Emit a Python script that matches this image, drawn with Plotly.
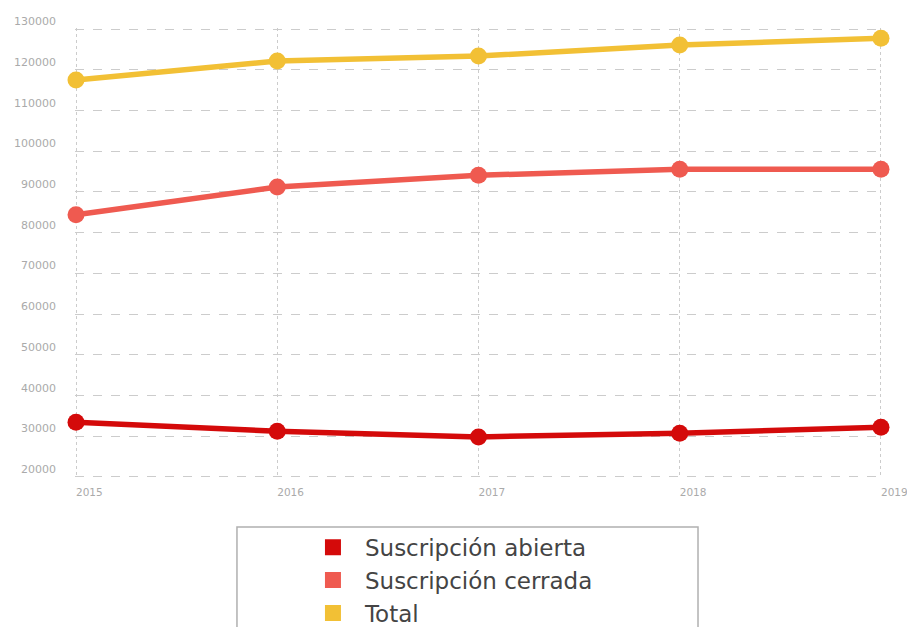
import plotly.graph_objects as go

years = [2015, 2016, 2017, 2018, 2019]
abierta = [33400, 31200, 29800, 30700, 32200]
cerrada = [84400, 91200, 94100, 95600, 95600]
total = [117500, 122200, 123400, 126100, 127800]
y_ticks = [20000, 30000, 40000, 50000, 60000, 70000, 80000, 90000, 100000, 110000, 120000, 130000]

series = [
    ("Suscripción abierta", abierta, "#d40a0a"),
    ("Suscripción cerrada", cerrada, "#ef5a50"),
    ("Total", total, "#f2c035"),
]

fig = go.Figure()
for name, vals, col in series:
    fig.add_trace(go.Scatter(
        x=years, y=vals, mode="lines+markers", name=name,
        line=dict(color=col, width=5.5), marker=dict(color=col, size=17),
        showlegend=False, cliponaxis=False,
    ))
for i, (name, vals, col) in enumerate(series):
    fig.add_trace(go.Scatter(
        x=[None], y=[None], mode="markers", name=name, legendgroup=f"g{i}",
        marker=dict(color=col, size=22, symbol="square"),
        showlegend=True,
    ))

# page has an 8px body margin: figure is 899x619 drawn at (8, 8)
fig.add_shape(type="rect", xref="paper", yref="paper",
              x0=0.2007, x1=0.772, y0=-0.109, y1=-0.40,
              line=dict(color="#b0b0b0", width=1.5), fillcolor="rgba(0,0,0,0)")

fig.update_layout(
    width=899, height=619,
    margin=dict(l=67, r=25, t=20, b=149, autoexpand=False),
    paper_bgcolor="white", plot_bgcolor="white",
    font=dict(family="DejaVu Sans, Arial, sans-serif", color="#aaaaaa"),
    xaxis=dict(
        range=[2014.995, 2019.005], tickvals=years, ticktext=[str(y) for y in years],
        showgrid=True, gridcolor="#cccccc", griddash="dot", gridwidth=1,
        zeroline=False, showline=False, ticks="", automargin=False,
        ticklabelposition="outside right", ticklabelstandoff=6,
        ticklabeloverflow="allow",
        tickfont=dict(size=10.5, color="#aaaaaa"),
    ),
    yaxis=dict(
        range=[19700, 130300], tickvals=y_ticks, ticktext=[str(v) for v in y_ticks],
        showgrid=True, gridcolor="#cccccc", griddash="dash", gridwidth=1,
        zeroline=False, showline=False, ticks="", automargin=False,
        ticklabelposition="outside top", ticklabelstandoff=18,
        tickfont=dict(size=11, color="#aaaaaa"),
    ),
    legend=dict(
        x=0.28, y=-0.106, xanchor="left", yanchor="top",
        orientation="v", font=dict(size=23, color="#444444"),
        bgcolor="rgba(0,0,0,0)", tracegroupgap=0, itemwidth=54,
    ),
)

fig.write_html("out.html")
